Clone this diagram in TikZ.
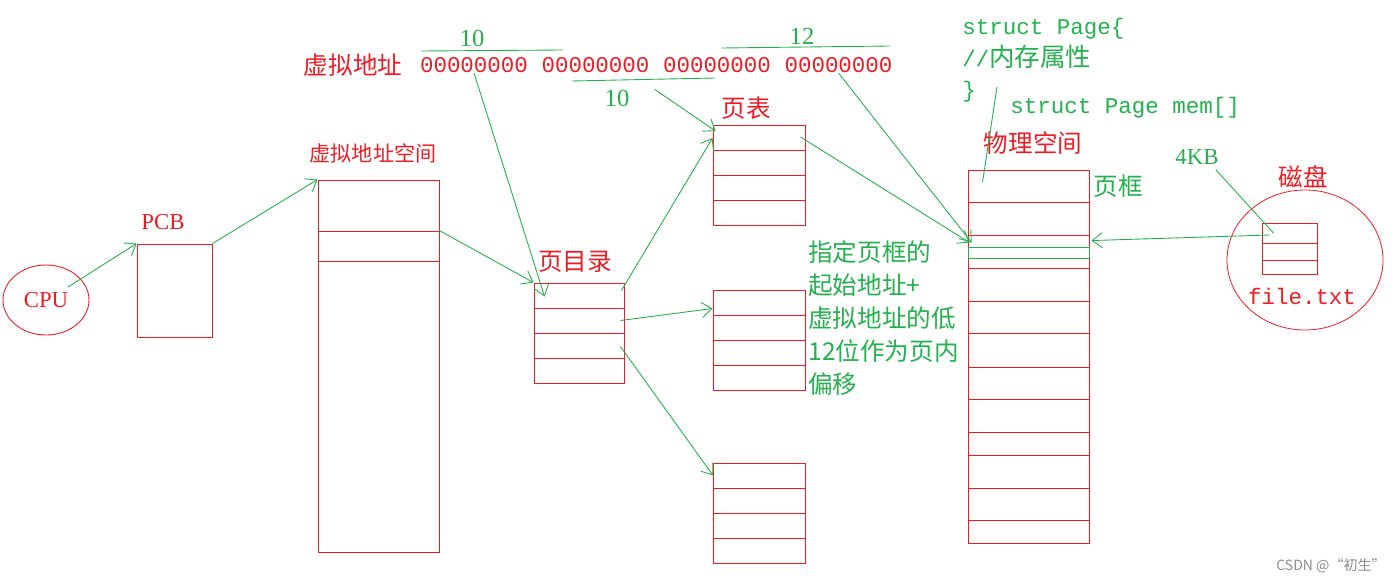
\documentclass[tikz,border=0pt]{standalone}
\usepackage{fontspec}
\setmainfont{Liberation Serif}
\setmonofont{Liberation Mono}
\newfontfamily\cjk{Noto Sans CJK SC}
\usetikzlibrary{positioning,shapes.geometric,arrows.meta}
\definecolor{pred}{HTML}{ED1C24}
\definecolor{pgreen}{HTML}{22B14C}
\begin{document}
\begin{tikzpicture}[x=0.2mm,y=-0.2mm,
    every node/.style={inner sep=0pt},
    cell/.style={draw=pred, line width=0.5pt, minimum width=18.4mm, minimum height=5mm},
    lbl/.style={text=pred, font=\cjk\fontsize{14}{16}\selectfont},
    note/.style={text=pgreen, font=\cjk\fontsize{14}{18.8}\selectfont},
    code/.style={text=pgreen, font=\ttfamily\fontsize{12.8}{17.9}\selectfont},
    num/.style={text=pgreen, font=\fontsize{14}{16}\selectfont},
    link/.style={pgreen, line width=0.5pt},
    arr/.style={link, -{Straight Barb[length=2mm,width=3mm]}}]
  \useasboundingbox (0,0) rectangle (1400,584);
  % cpu, pcb, virtual space
  \node[ellipse, draw=pred, line width=0.5pt, minimum width=17.2mm, minimum height=14mm,
        text=pred, font=\fontsize{13}{14}\selectfont] (cpu) at (46,300) {CPU};
  \node[cell, minimum width=15mm, minimum height=18.6mm] (pcb) at (174.5,290.5) {};
  \node[text=pred, font=\fontsize{13}{14}\selectfont] (pcbl) at (163,222) {PCB};
  \foreach \t/\b [count=\i] in {180/231,231/261,261/552}
    {\node[cell, minimum width=24.2mm, minimum height={(\b-\t)*0.2mm}] (vas\i) at (378.5,{(\t+\b)/2}) {};}
  \node[lbl, font=\cjk\fontsize{12}{14}\selectfont] (vasl) at (373,153) {虚拟地址空间};
  % virtual address bits
  \node[lbl] (vaddr) at (353,65) {虚拟地址};
  \foreach \k in {1,...,4}
    {\node[code, text=pred] (b\k) at ({474+121.5*(\k-1)},65) {00000000};}
  \draw[link] (421,51) -- (563,50);
  \node[num] (ten1) at (472,38) {10};
  \draw[link] (572,81) -- (715,78);
  \node[num] (ten2) at (617,98) {10};
  \draw[link] (722,48) -- (890,46);
  \node[num] (twelve) at (802,36) {12};
  % page directory and page tables
  \foreach \k in {1,...,4}{
    \node[cell, minimum width=18mm] (pd\k) at (579,270.5+25*\k) {};
    \node[cell] (ta\k) at (759,113+25*\k) {};
    \node[cell] (tb\k) at (759,277.5+25*\k) {};
    \node[cell] (tc\k) at (759.5,450.5+25*\k) {};
  }
  \node[lbl] (pdl) at (575,262) {页目录};
  \node[lbl] (tal) at (746,108) {页表};
  \node[note, anchor=north west, align=left] (hint) at (808,240)
    {指定页框的\\起始地址+\\虚拟地址的低\\12位作为页内\\偏移};
  % physical space
  \foreach \t/\b [count=\i] in {170/202,202/235,235/268,268/301,301/333,333/367,
                                367/399,399/432,432/455,455/488,488/520,520/543}
    {\node[cell, minimum width=24.2mm, minimum height={(\b-\t)*0.2mm}] (ph\i) at (1028.5,{(\t+\b)/2}) {};}
  \node[draw=pgreen, line width=0.5pt, minimum width=24.2mm, minimum height=2.2mm] (slot) at (1028.5,252.5) {};
  \node[lbl] (phl) at (1033,143) {物理空间};
  \node[note, right=0.8mm of ph1] (kuang) {页框};
  \node[code, anchor=north west, align=left] (spage) at (962,18)
    {struct Page\{\\//{\cjk\fontsize{14.5}{17.9}\selectfont 内存属性}\\\}};
  \node[code, anchor=west] (smem) at (1010,108) {struct Page mem[]};
  \coordinate (brace) at (997,87);
  % disk
  \node[ellipse, draw=pred, line width=0.45pt, minimum width=31.2mm, minimum height=28mm] (disk) at (1305,260) {};
  \foreach \t/\b [count=\i] in {223/243,243/260,260/274}
    {\node[cell, minimum width=11mm, minimum height={(\b-\t)*0.2mm}] (dk\i) at (1289.5,{(\t+\b)/2}) {};}
  \node[lbl] (dkl) at (1303,177) {磁盘};
  \node[code, text=pred] (ftxt) at (1302,296) {file.txt};
  \node[num, font=\fontsize{13}{14}\selectfont] (kb) at (1197,157) {4KB};
  % connectors
  \draw[arr] ([shift={(22,-13)}]cpu.center) -- (pcb.north west);
  \draw[arr] (pcb.north east) -- (vas1.north west);
  \draw[arr] (vas2.north east) -- (pd1.north west);
  \draw[arr] (b1.south) -- ([shift={(11,14)}]pd1.north west);
  \draw[arr] ([shift={(25,0)}]ten2.north east) -- ([shift={(3,6)}]ta1.north west);
  \draw[arr] ([shift={(-3,-5)}]pd1.east) -- (ta1.west);
  \draw[arr] ([shift={(-4,0)}]pd2.east) -- ([shift={(0,6)}]tb1.west);
  \draw[arr] ([shift={(-4,1)}]pd3.east) -- (tc1.west);
  \draw[arr] ([shift={(-5,-1)}]ta1.east) -- ([shift={(2,-4)}]slot.north west);
  \draw[arr] (b4.south) -- ([shift={(4,-4)}]slot.north west);
  \draw[arr] ([shift={(-20,2)}]dk1.center) -- ([shift={(2,-6)}]slot.north east);
  \draw[link] ([shift={(19,5)}]kb.south) -- ([shift={(-16,0)}]dk1.center);
  \draw[link] (brace) -- ([shift={(15,-4)}]ph1.west);
  \node[text=black!45, font=\cjk\fontsize{8}{10}\selectfont] (wm) at (1331,566) {CSDN @“初生”};
\end{tikzpicture}
\end{document}
